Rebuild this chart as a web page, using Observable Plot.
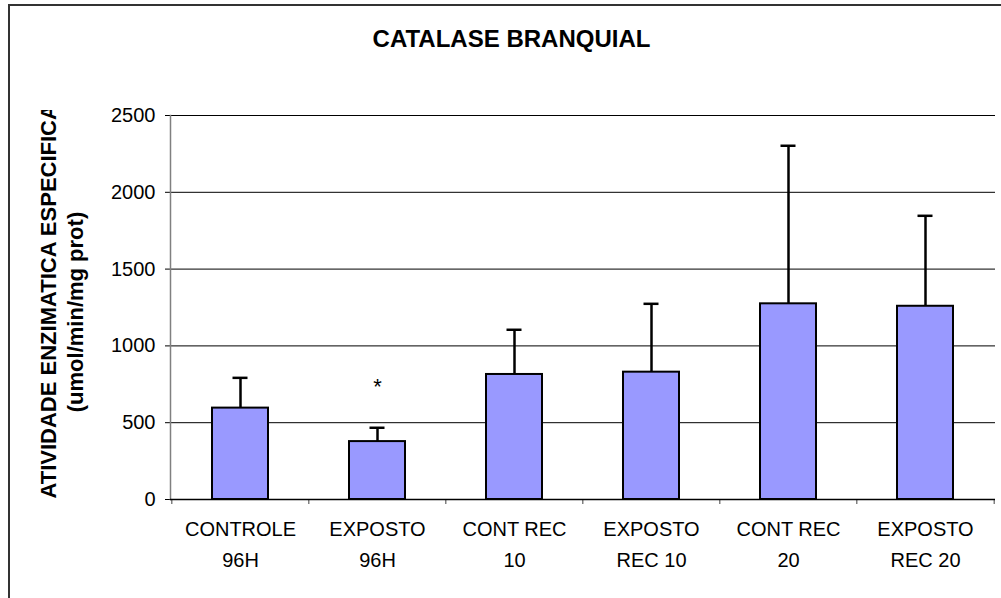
<!DOCTYPE html>
<html>
<head>
<meta charset="utf-8">
<script src="https://cdn.jsdelivr.net/npm/d3@7"></script>
<script src="https://cdn.jsdelivr.net/npm/@observablehq/plot@0.6"></script>
<style>
  html, body { margin: 0; padding: 0; background: #fff; overflow: hidden; }
  #wrap { position: relative; width: 1001px; height: 598px; overflow: hidden; }
  #border { position: absolute; left: 8px; top: 4px; width: 1100px; height: 700px; border: 2px solid #333; box-sizing: border-box; }
  #title { position: absolute; left: 11px; top: 27px; width: 1001px; text-align: center;
           font-family: "Liberation Sans", Arial, sans-serif; font-weight: bold; font-size: 24px; line-height: 24px; color: #000; }
  #chart { position: absolute; left: 0; top: 0; }
</style>
</head>
<body>
<div id="wrap">
  <div id="border"></div>
  <div id="chart"></div>
  <div id="title">CATALASE BRANQUIAL</div>
</div>
<script>
// ---- data ----
const categories = ["CONTROLE\n96H", "EXPOSTO\n96H", "CONT REC\n10", "EXPOSTO\nREC 10", "CONT REC\n20", "EXPOSTO\nREC 20"];
const means  = [595, 377, 814, 829, 1274, 1258];
const errors = [197, 90, 291, 445, 1029, 589];
const yTicks = [0, 500, 1000, 1500, 2000, 2500];
const markerCats   = ["EXPOSTO\n96H"];
const markerY      = [730];
const markerLabels = ["*"];
const yTitle1 = "ATIVIDADE ENZIMATICA ESPECIFICA";
const yTitle2 = "(umol/min/mg prot)";

const data = categories.map((c, i) => ({cat: c, mean: means[i], upper: means[i] + errors[i]}));
const markers = markerCats.map((c, i) => ({cat: c, y: markerY[i], label: markerLabels[i]}));

const W = 1001, H = 598, mL = 170, mR = 6, mT = 115, mB = 99;
const step = (W - mL - mR) / categories.length;
const font = "Liberation Sans, Arial, sans-serif";

const chart = Plot.plot({
  width: W, height: H,
  marginLeft: mL, marginRight: mR, marginTop: mT, marginBottom: mB,
  style: {fontFamily: font, color: "#000", background: "transparent", overflow: "visible"},
  x: {domain: categories, paddingInner: 0.593, paddingOuter: 0.2965, label: null, axis: null},
  y: {domain: [0, 2500], label: null, axis: null},
  marks: [
    Plot.gridY(yTicks, {stroke: "#000", strokeOpacity: 1, strokeWidth: 1}),
    Plot.axisY(yTicks, {tickSize: 5, tickPadding: 10, fontSize: 20, tickFormat: d => String(d), stroke: "#000", strokeOpacity: 1, label: null}),
    Plot.frame({anchor: "left", stroke: "#808080", strokeWidth: 1.5}),
    Plot.axisX({tickSize: 5, dx: -step / 2, tickFormat: () => "", stroke: "#808080", strokeWidth: 1.5, label: null}),
    Plot.axisX([categories[categories.length - 1]], {tickSize: 5, dx: step / 2, tickFormat: () => "", stroke: "#808080", strokeWidth: 1.5, label: null}),
    Plot.axisX({tickSize: 0, tickPadding: 14, fontSize: 20, lineHeight: 1.55, label: null}),
    Plot.ruleX(data, {x: "cat", y1: "mean", y2: "upper", stroke: "#000", strokeWidth: 2.5}),
    Plot.tickY(data, {x: "cat", y: "upper", stroke: "#000", strokeWidth: 2.5, insetLeft: 20.5, insetRight: 20.5}),
    Plot.barY(data, {x: "cat", y: "mean", fill: "#9999FF", stroke: "#000", strokeWidth: 2}),
    Plot.ruleY([0], {stroke: "#000", strokeWidth: 1.5}),
    Plot.text(markers, {x: "cat", y: "y", text: "label", fontSize: 22, fill: "#000"}),
    Plot.text([yTitle1], {text: d => d, frameAnchor: "bottom-left", rotate: -90, textAnchor: "start", lineAnchor: "middle",
                          dx: -121.5, dy: -1, fontSize: 22, fontWeight: "bold", fill: "#000"}),
    Plot.text([yTitle2], {text: d => d, frameAnchor: "left", rotate: -90, textAnchor: "middle", lineAnchor: "middle",
                          dx: -95, dy: 4.5, fontSize: 22, fontWeight: "bold", fill: "#000"})
  ]
});
document.getElementById("chart").appendChild(chart);

// clip the first y-title line like the original (text cut at top of plot area)
const svg = d3.select(chart);
svg.append("defs").append("clipPath").attr("id", "ylab-clip")
  .append("rect").attr("x", 0).attr("y", 110).attr("width", mL).attr("height", H);
svg.selectAll("text").filter(function() { return this.textContent === yTitle1; }).each(function() {
  const g = this.parentNode;
  const wrapper = document.createElementNS("http://www.w3.org/2000/svg", "g");
  wrapper.setAttribute("clip-path", "url(#ylab-clip)");
  g.parentNode.insertBefore(wrapper, g);
  wrapper.appendChild(g);
});
</script>
</body>
</html>
